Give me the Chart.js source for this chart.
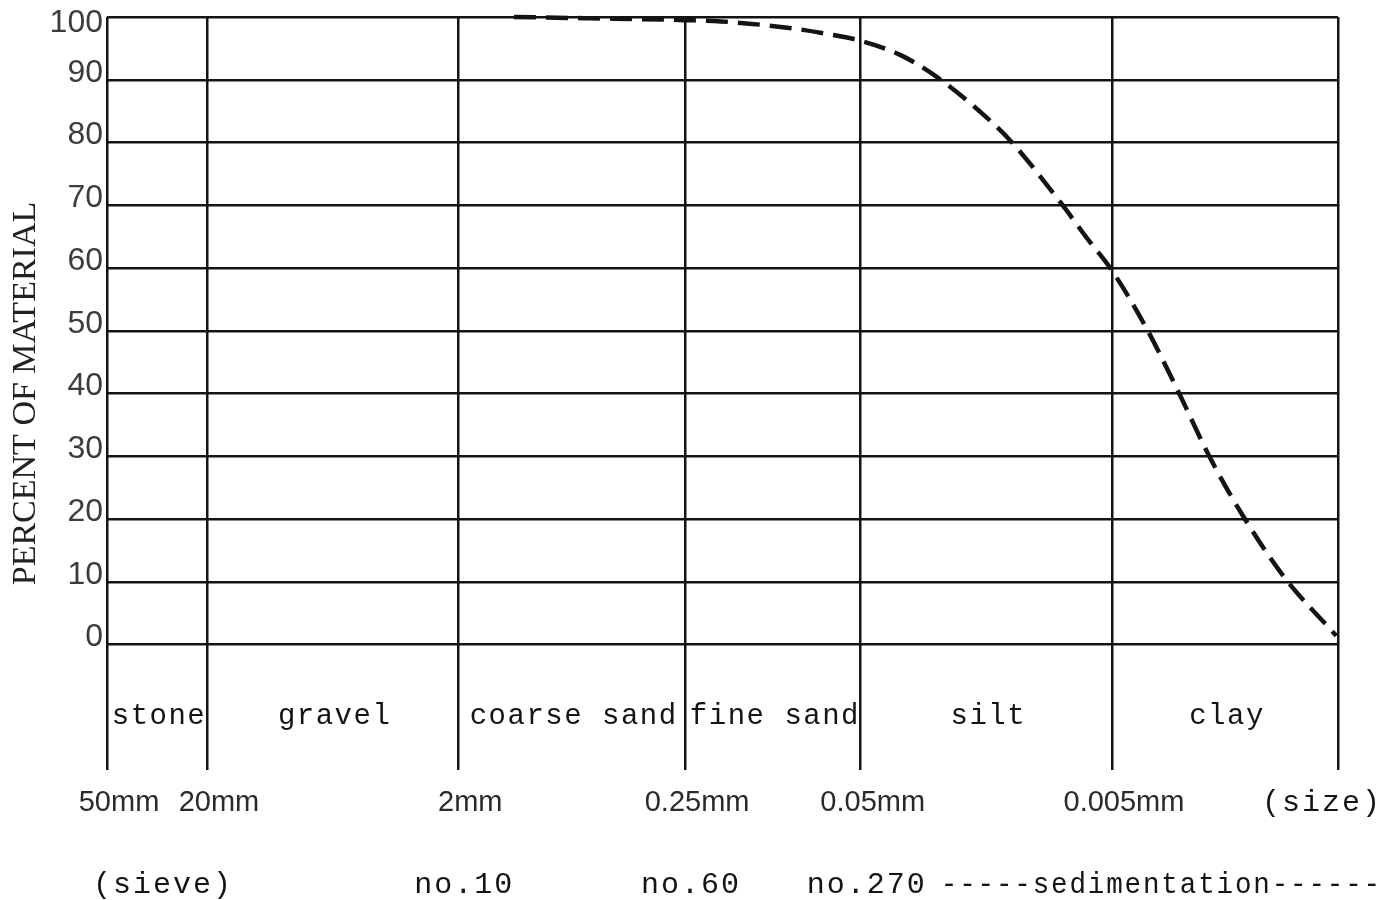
<!DOCTYPE html>
<html>
<head>
<meta charset="utf-8">
<script src="https://cdn.jsdelivr.net/npm/chart.js@4.4.1/dist/chart.umd.min.js"></script>
<style>
	html, body { margin: 0; padding: 0; background: #fff; }
	#wrap { width: 1386px; height: 900px; }
</style>
</head>
<body>
<div id="wrap"><canvas id="grading" width="1386" height="900"></canvas></div>
<script>

// Grain size boundaries (mm) - vertical lines, coarse to fine
const boundarySizes = [50, 20, 2, 0.25, 0.05, 0.005, 0.00063];

// Soil classes between the boundaries
const bandNames = ['stone', 'gravel', 'coarse sand', 'fine sand', 'silt', 'clay'];

// Size labels under each boundary
const sizeLabels = ['50mm', '20mm', '2mm', '0.25mm', '0.05mm', '0.005mm', '(size)'];

// Sieve labels and the size they sit under
const sieveLabels = ['(sieve)', 'no.10', 'no.60', 'no.270 -----sedimentation------'];
const sieveSizes = [31.6, 2, 0.25, 0.05];

// Percent axis ticks
const percentTicks = [0, 10, 20, 30, 40, 50, 60, 70, 80, 90, 100];

// Grading curve
const curveSizes = [1.2, 0.6, 0.25, 0.18, 0.094, 0.068, 0.05, 0.035, 0.025, 0.0162, 0.0125, 0.008, 0.0063, 0.005, 0.0036, 0.0027, 0.00205, 0.0015, 0.00103, 0.00064];
const curvePercent = [100, 99.8, 99.5, 99.3, 98.2, 97.3, 96.2, 94, 90.5, 84.4, 80, 70.4, 64.8, 59.6, 50, 40, 30, 20.4, 10.7, 1.4];


const INK = '#141414';
const MONO = '"Liberation Mono", "DejaVu Sans Mono", monospace';
const SANS = '"Liberation Sans", Arial, sans-serif';
const SERIF = '"Liberation Serif", "DejaVu Serif", serif';


/**
 * Draws the typewritten rows under the grid: class names, sizes and sieve numbers
 */
const labelRows = {
	id: 'labelRows',
	afterDraw(chart){

		const ctx = chart.ctx;
		const xs = chart.scales.x;
		const ys = chart.scales.y;
		const area = chart.chartArea;
		const rightLimit = chart.width - 4;

		ctx.save();
		ctx.fillStyle = INK;
		ctx.textBaseline = 'middle';
		ctx.textAlign = 'center';

		// Row 1 - class names, centred in each band
		ctx.font = '29px ' + MONO;
		ctx.letterSpacing = '1.5px';
		let bandY = ys.getPixelForValue(-11.5);
		for(let i=0; i<bandNames.length; i++){
			let left = xs.getPixelForValue(boundarySizes[i]);
			let right = xs.getPixelForValue(boundarySizes[i + 1]);
			ctx.fillText(bandNames[i], (left + right) / 2 + 2, bandY);
		}

		// Row 2 - sizes under each boundary
		let sizeY = area.bottom + 33;
		for(let i=0; i<sizeLabels.length; i++){
			let label = sizeLabels[i];
			let isSize = label.indexOf('mm') !== -1;
			ctx.font = isSize ? '29px ' + SANS : '30px ' + MONO;
			ctx.letterSpacing = isSize ? '0px' : '2px';
			ctx.fillStyle = isSize ? '#2a2a2a' : INK;
			let w = ctx.measureText(label).width;
			let x = xs.getPixelForValue(boundarySizes[i]) + 12;
			x = Math.min(x, rightLimit - w / 2);
			ctx.fillText(label, x, sizeY);
		}

		// Row 3 - sieve numbers, the last one runs on to the right edge
		let sieveY = area.bottom + 115;
		ctx.font = '30px ' + MONO;
		ctx.letterSpacing = '2px';
		ctx.fillStyle = INK;
		for(let i=0; i<sieveLabels.length; i++){
			let label = sieveLabels[i];
			let x = xs.getPixelForValue(sieveSizes[i]) + 6;
			let cut = label.indexOf(' ');

			if(cut === -1){
				ctx.textAlign = 'center';
				ctx.fillText(label, x, sieveY);
			} else {
				let head = label.slice(0, cut);
				let tail = label.slice(cut + 1);
				let headW = ctx.measureText(head).width;
				ctx.textAlign = 'center';
				ctx.fillText(head, x, sieveY);
				let start = x + headW / 2 + 14;
				ctx.textAlign = 'left';
				ctx.fillText(tail, start, sieveY, rightLimit - start);
			}
		}

		ctx.restore();
	}
};


const chart = new Chart(document.getElementById('grading'), {
	type: 'line',
	data: {
		datasets: [{
			label: 'grading',
			data: curveSizes.map((s, i) => ({x: s, y: curvePercent[i]})),
			borderColor: INK,
			borderWidth: 4.5,
			borderDash: [22, 10],
			pointRadius: 0,
			fill: false,
			cubicInterpolationMode: 'monotone',
			clip: 6
		}]
	},
	options: {
		responsive: false,
		animation: false,
		layout: {
			padding: {top: 17, right: 48, bottom: 130, left: 0}
		},
		plugins: {
			legend: {display: false},
			tooltip: {enabled: false}
		},
		scales: {
			x: {
				type: 'logarithmic',
				reverse: true,
				bounds: 'data',
				min: boundarySizes[boundarySizes.length - 1],
				max: boundarySizes[0],
				afterBuildTicks: (scale) => {
					scale.ticks = boundarySizes.map(v => ({value: v}));
				},
				afterFit: (scale) => {
					scale.paddingLeft = 0;
					scale.paddingRight = 0;
				},
				ticks: {display: false},
				border: {display: false},
				grid: {
					color: INK,
					lineWidth: 2.5,
					drawTicks: false
				}
			},
			y: {
				min: -20,
				max: 100,
				afterBuildTicks: (scale) => {
					scale.ticks = [-20, -10].concat(percentTicks).map(v => ({value: v}));
				},
				afterFit: (scale) => {
					scale.width = 107;
					scale.paddingTop = 0;
					scale.paddingBottom = 0;
				},
				border: {display: false},
				grid: {
					color: (c) => (c.tick && c.tick.value >= 0 ? INK : 'rgba(0,0,0,0)'),
					lineWidth: 2.5,
					drawTicks: false
				},
				ticks: {
					// top label sits under the top line, as on the sheet
					callback: (v) => (v < 0 ? '' : (v === 100 ? ['', '100'] : String(v))),
					font: {family: SANS, size: 32, lineHeight: 0.8},
					color: '#3c3c3c',
					padding: 4,
					labelOffset: -7
				},
				title: {
					display: true,
					text: 'PERCENT OF MATERIAL',
					font: {family: SERIF, size: 34},
					color: '#222',
					padding: {top: 6, bottom: 0}
				}
			}
		}
	},
	plugins: [labelRows]
});

</script>
</body>
</html>
